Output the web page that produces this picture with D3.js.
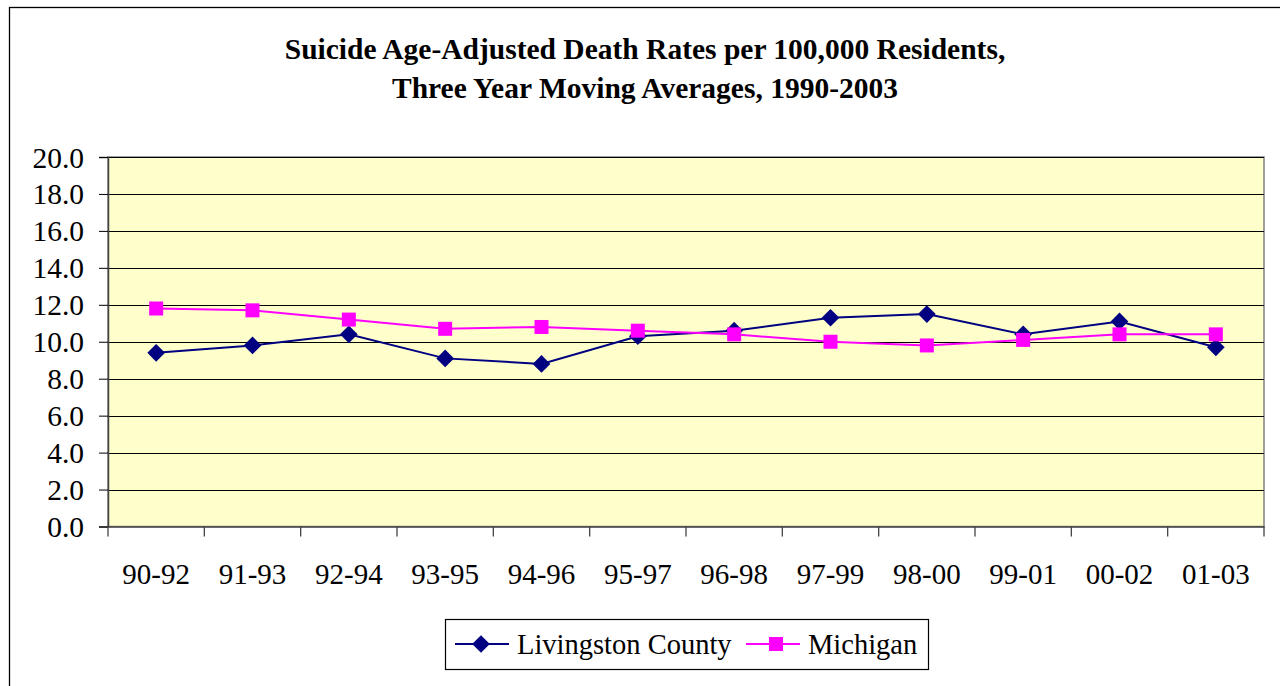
<!DOCTYPE html>
<html><head><meta charset="utf-8">
<script src="https://cdn.jsdelivr.net/npm/d3@7"></script>
<style>html,body{margin:0;padding:0;background:#fff;overflow:hidden}</style>
</head><body>
<svg id="c" width="1280" height="686"></svg>
<script>
const categories = ["90-92","91-93","92-94","93-95","94-96","95-97","96-98","97-99","98-00","99-01","00-02","01-03"];
const livingston = [9.4,9.8,10.4,9.1,8.8,10.3,10.6,11.3,11.5,10.4,11.1,9.7];
const michigan = [11.8,11.7,11.2,10.7,10.8,10.6,10.4,10.0,9.8,10.1,10.4,10.4];
const yTicks = [0,2,4,6,8,10,12,14,16,18,20];
const titleLines = ["Suicide Age-Adjusted Death Rates per 100,000 Residents,","Three Year Moving Averages, 1990-2003"];
const seriesNames = ["Livingston County","Michigan"];

const svg = d3.select("#c");
const font = "'Liberation Serif','Times New Roman',serif";
// outer chart border
svg.append("rect").attr("x",9.5).attr("y",7.5).attr("width",1290).attr("height",700)
  .attr("fill","#fff").attr("stroke","#000").attr("stroke-width",1.3);

const L=108,R=1264,T=157,B=526.5;
const x = d3.scaleBand().domain(categories).range([L,R]);
const y = d3.scaleLinear().domain([0,20]).range([B,T]);

svg.append("rect").attr("x",L).attr("y",T).attr("width",R-L).attr("height",B-T)
  .attr("fill","#FFFFCC").attr("stroke","#808080").attr("stroke-width",1.5);

// gridlines
svg.append("g").selectAll("line").data(yTicks.filter(d=>d>0)).join("line")
  .attr("x1",L).attr("x2",R).attr("y1",d=>Math.round(y(d))+0.5).attr("y2",d=>Math.round(y(d))+0.5)
  .attr("stroke","#000").attr("stroke-width",1);

// y axis
const yAxis = d3.axisLeft(y).tickValues(yTicks).tickFormat(d3.format(".1f")).tickSize(9).tickPadding(15);
const gy = svg.append("g").attr("transform",`translate(${L},0)`).call(yAxis);
gy.select(".domain").attr("stroke","#444").attr("stroke-width",1.5);
gy.selectAll(".tick line").attr("stroke","#000");
gy.selectAll("text").attr("font-family",font).attr("font-size",29.5).attr("fill","#000").attr("dy","0.34em");

// x axis
const xAxis = d3.axisBottom(x).tickSize(0).tickPadding(0);
const gx = svg.append("g").attr("transform",`translate(0,${B})`).call(xAxis);
gx.select(".domain").attr("stroke","#444").attr("stroke-width",1.5);
gx.selectAll("text").attr("font-family",font).attr("font-size",29).attr("fill","#000").attr("dy",null).attr("y",57);
// tick marks between categories
const bounds = categories.map(c=>x(c)).concat([R]);
svg.append("g").selectAll("line").data(bounds).join("line")
  .attr("x1",d=>d).attr("x2",d=>d).attr("y1",B).attr("y2",B+10).attr("stroke","#444").attr("stroke-width",1.3);

const cx = c => x(c)+x.bandwidth()/2;
const line = d3.line().x((d,i)=>cx(categories[i])).y(d=>y(d));

// Livingston
svg.append("path").datum(livingston).attr("d",line).attr("fill","none").attr("stroke","#000080").attr("stroke-width",2);
svg.append("g").selectAll("path").data(livingston).join("path")
  .attr("d",d3.symbol().type(d3.symbolDiamond2).size(200))
  .attr("transform",(d,i)=>`translate(${cx(categories[i])},${y(d)})`).attr("fill","#000080");
// Michigan
svg.append("path").datum(michigan).attr("d",line).attr("fill","none").attr("stroke","#FF00FF").attr("stroke-width",2);
svg.append("g").selectAll("rect").data(michigan).join("rect")
  .attr("x",(d,i)=>cx(categories[i])-7).attr("y",d=>y(d)-7).attr("width",14).attr("height",14).attr("fill","#FF00FF");

// title
svg.append("g").selectAll("text").data(titleLines).join("text")
  .attr("x",645).attr("y",(d,i)=>59+i*38.5).attr("text-anchor","middle")
  .attr("font-family",font).attr("font-weight","bold").attr("font-size",29.5).text(d=>d);

// legend
const lg = svg.append("g");
lg.append("rect").attr("x",445.5).attr("y",619.5).attr("width",483).attr("height",50)
  .attr("fill","#fff").attr("stroke","#000").attr("stroke-width",1.2);
lg.append("line").attr("x1",455).attr("x2",509).attr("y1",644).attr("y2",644).attr("stroke","#000080").attr("stroke-width",2);
lg.append("path").attr("d",d3.symbol().type(d3.symbolDiamond2).size(200)).attr("transform","translate(481,644)").attr("fill","#000080");
lg.append("text").attr("x",517).attr("y",654).attr("font-family",font).attr("font-size",28.5).text(seriesNames[0]);
lg.append("line").attr("x1",746).attr("x2",800).attr("y1",644).attr("y2",644).attr("stroke","#FF00FF").attr("stroke-width",2);
lg.append("rect").attr("x",769).attr("y",637).attr("width",14).attr("height",14).attr("fill","#FF00FF");
lg.append("text").attr("x",808).attr("y",654).attr("font-family",font).attr("font-size",28.5).text(seriesNames[1]);
</script>
</body></html>
